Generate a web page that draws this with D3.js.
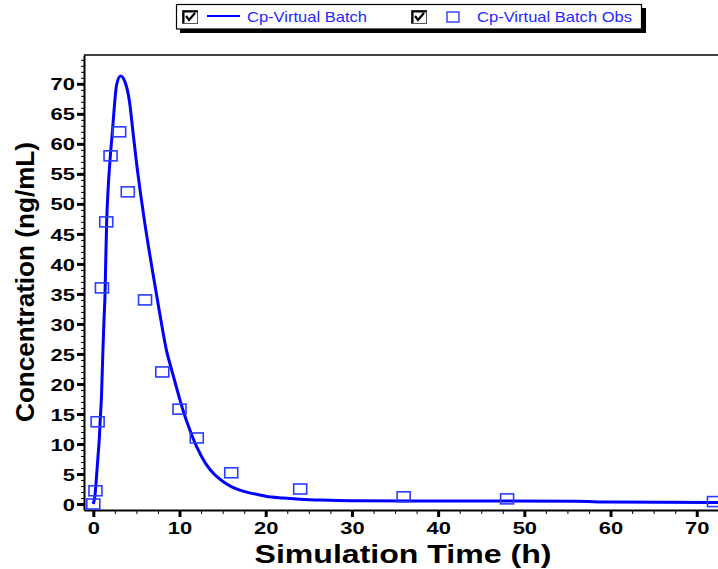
<!DOCTYPE html>
<html>
<head>
<meta charset="utf-8">
<script src="https://cdn.jsdelivr.net/npm/d3@7"></script>
<style>
  body { margin: 0; background: #fff; }
  svg { display: block; font-family: "Liberation Sans", Arial, sans-serif; }
</style>
</head>
<body>
<div id="chart"></div>
<script>
// simulated profile (Cp-Virtual Batch)
const simTime = [0, 0.2, 0.37, 0.55, 0.7, 0.8, 0.95, 1.1, 1.25, 1.35, 1.45, 1.55, 1.72, 1.95, 2.2, 2.4, 2.7, 3.15,
    3.65, 4.2, 4.6, 5.0, 5.5, 6.0, 6.5, 7.0, 7.5, 8.0, 8.5, 9.0, 9.5, 10.0, 10.5, 11.0, 11.5, 12.0, 13.0, 14.0,
    15.0, 16.0, 17.0, 18.0, 19.3, 20, 22, 24, 26.5, 30, 40, 56, 60, 72, 72.5];
const simConc = [0, 1.5, 4.5, 8, 11, 14, 18, 25, 31, 34.5, 41, 47, 52.5, 57.5, 61.8, 65.5, 69.8, 71.3,
    70.4, 67, 62, 57, 51.5, 46.5, 42, 37.7, 33.5, 29.3, 25.5, 22.8, 20.2, 17.6, 15.2, 13.1, 11.2, 9.5, 6.8, 5.0,
    3.8, 2.9, 2.3, 1.9, 1.5, 1.3, 1.0, 0.8, 0.65, 0.55, 0.5, 0.45, 0.32, 0.25, 0.25];

// observed (Cp-Virtual Batch Obs)
const obsTime = [0, 0.25, 0.5, 1, 1.5, 2, 3, 4, 6, 8, 10, 12, 16, 24, 36, 48, 72];
const obsConc = [0, 2.2, 13.7, 36, 47, 58, 62, 52, 34, 22, 15.8, 11, 5.2, 2.5, 1.2, 0.85, 0.4];

const xMajor = [0, 10, 20, 30, 40, 50, 60, 70];
const yMajor = [0, 5, 10, 15, 20, 25, 30, 35, 40, 45, 50, 55, 60, 65, 70];

const legendLabels = ["Cp-Virtual Batch", "Cp-Virtual Batch Obs"];

const width = 718,
    height = 569,
    plotLeft = 84,
    plotRight = 718.3,
    plotTop = 55,
    plotBottom = 510,
    lineBlue = "#0000ff",
    markBlue = "#2a3cff",
    textBlue = "#2626ff";

const svg = d3.select("#chart").append("svg")
    .attr("width", width)
    .attr("height", height);

svg.append("rect").attr("width", width).attr("height", height).attr("fill", "#fff");

// Scales
const x = d3.scaleLinear().domain([-1.08, 72.5]).range([plotLeft, plotRight]);
const y = d3.scaleLinear().domain([-1, 74.8]).range([plotBottom, plotTop]);

// frame top
svg.append("line")
    .attr("x1", plotLeft).attr("x2", width)
    .attr("y1", plotTop).attr("y2", plotTop)
    .attr("stroke", "#000").attr("stroke-width", 1.5);

// minor ticks
const xMinor = d3.range(0, 72.6, 2.5).filter(v => v % 10 !== 0);
const yMinor = d3.range(0, 75, 1).filter(v => v % 5 !== 0);

svg.append("g")
    .attr("transform", `translate(0,${plotBottom})`)
    .call(d3.axisBottom(x).tickValues(xMinor).tickSize(4).tickSizeOuter(0).tickFormat(""))
    .call(g => g.select(".domain").remove())
    .call(g => g.selectAll(".tick line").attr("stroke", "#000").attr("stroke-width", 1));

svg.append("g")
    .attr("transform", `translate(${plotLeft},0)`)
    .call(d3.axisLeft(y).tickValues(yMinor).tickSize(3).tickSizeOuter(0).tickFormat(""))
    .call(g => g.select(".domain").remove())
    .call(g => g.selectAll(".tick line").attr("stroke", "#000").attr("stroke-width", 1));

// major axes
const xAxis = svg.append("g")
    .attr("transform", `translate(0,${plotBottom})`)
    .call(d3.axisBottom(x).tickValues(xMajor).tickSize(7).tickPadding(5).tickSizeOuter(0));

const yAxis = svg.append("g")
    .attr("transform", `translate(${plotLeft},0)`)
    .call(d3.axisLeft(y).tickValues(yMajor).tickSize(7).tickPadding(2).tickSizeOuter(0));

[xAxis, yAxis].forEach(g => {
    g.select(".domain").attr("stroke", "#000").attr("stroke-width", 2);
    g.selectAll(".tick line").attr("stroke", "#000").attr("stroke-width", 3);
    g.selectAll(".tick text")
        .attr("fill", "#000")
        .style("font-size", "17px")
        .style("font-weight", "bold")
        .attr("textLength", d => String(d).length * 12.2)
        .attr("lengthAdjust", "spacingAndGlyphs");
});
yAxis.selectAll(".tick text").attr("dy", "0.36em");

// simulated line
const line = d3.line()
    .x((d, i) => x(simTime[i]))
    .y(d => y(d))
    .curve(d3.curveMonotoneX);

svg.append("path")
    .datum(simConc)
    .attr("fill", "none")
    .attr("stroke", lineBlue)
    .attr("stroke-width", 3)
    .attr("stroke-linejoin", "round")
    .attr("d", line);

// observed squares
svg.selectAll("rect.obs")
    .data(obsConc)
    .enter()
    .append("rect")
    .attr("class", "obs")
    .attr("x", (d, i) => x(obsTime[i]) - 6.5)
    .attr("y", d => y(d) - 5)
    .attr("width", 13)
    .attr("height", 10)
    .attr("fill", "none")
    .attr("stroke", markBlue)
    .attr("stroke-width", 1.6);

// axis titles
svg.append("text")
    .attr("x", 403)
    .attr("y", 563)
    .attr("text-anchor", "middle")
    .attr("textLength", 297)
    .attr("lengthAdjust", "spacingAndGlyphs")
    .style("font-size", "25px")
    .style("font-weight", "bold")
    .text("Simulation Time (h)");

svg.append("text")
    .attr("transform", "translate(33.5,282) rotate(-90)")
    .attr("text-anchor", "middle")
    .attr("textLength", 280)
    .attr("lengthAdjust", "spacingAndGlyphs")
    .style("font-size", "25px")
    .style("font-weight", "bold")
    .text("Concentration (ng/mL)");

// Legend
const legend = svg.append("g");
legend.append("rect")
    .attr("x", 180).attr("y", 8).attr("width", 466).attr("height", 25)
    .attr("fill", "#000");
legend.append("rect")
    .attr("x", 176.5).attr("y", 4.5).attr("width", 465).attr("height", 24.5)
    .attr("fill", "#fff").attr("stroke", "#000").attr("stroke-width", 1.2);

const legendItems = [
    {box: 182, sym: "line", label: legendLabels[0], tx: 247, tw: 120},
    {box: 411, sym: "square", label: legendLabels[1], tx: 477, tw: 155}
];

legendItems.forEach(it => {
    const g = legend.append("g");
    g.append("rect")
        .attr("x", it.box + 0.5).attr("y", 10.5).attr("width", 15).attr("height", 13)
        .attr("fill", "#fff").attr("stroke", "#555").attr("stroke-width", 1);
    g.append("path")
        .attr("d", `M${it.box + 1.5},23 V11.5 H${it.box + 15.5}`)
        .attr("stroke", "#000").attr("stroke-width", 2).attr("fill", "none");
    g.append("path")
        .attr("d", `M${it.box + 4},16 L${it.box + 7},20 L${it.box + 13},13`)
        .attr("stroke", "#000").attr("stroke-width", 2.2).attr("fill", "none");
    if (it.sym === "line") {
        g.append("line")
            .attr("x1", 207).attr("x2", 240).attr("y1", 16).attr("y2", 16)
            .attr("stroke", lineBlue).attr("stroke-width", 2);
    } else {
        g.append("rect")
            .attr("x", 447).attr("y", 12).attr("width", 12).attr("height", 10)
            .attr("fill", "none").attr("stroke", markBlue).attr("stroke-width", 1.4);
    }
    g.append("text")
        .attr("x", it.tx).attr("y", 21.5)
        .attr("fill", textBlue)
        .attr("textLength", it.tw)
        .attr("lengthAdjust", "spacingAndGlyphs")
        .style("font-size", "15px")
        .text(it.label);
});
</script>
</body>
</html>
